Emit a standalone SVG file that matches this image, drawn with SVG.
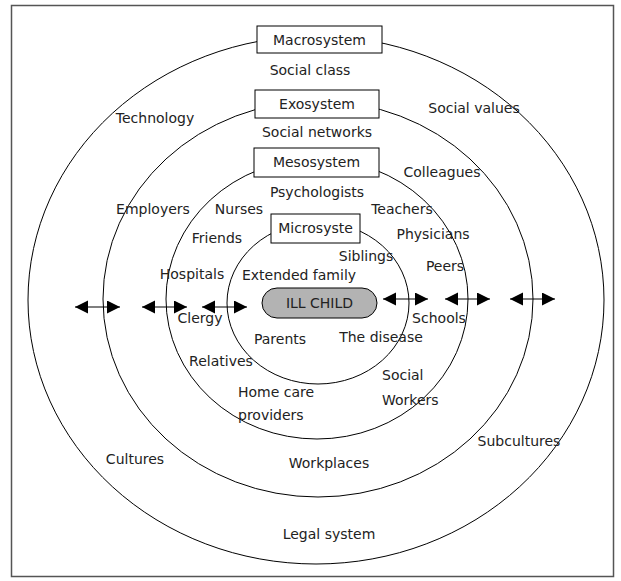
<svg xmlns="http://www.w3.org/2000/svg" width="621" height="581" viewBox="0 0 621 581">
<style>
  .ring{fill:none;stroke:#000;stroke-width:1}
  .box{fill:#fff;stroke:#000;stroke-width:1}
  .child{fill:#b3b3b3;stroke:#000;stroke-width:1}
  text{font-family:"DejaVu Sans","Liberation Sans",sans-serif;font-size:14px;fill:#222}
  .c{text-anchor:middle}
  .arr{stroke:#000;stroke-width:1.2;marker-start:url(#head);marker-end:url(#head)}
</style>
<defs>
  <marker id="head" markerUnits="userSpaceOnUse" markerWidth="14" markerHeight="14" refX="13" refY="6.5" orient="auto-start-reverse">
    <path d="M0,0 L13,6.5 L0,13 Z" fill="#000"/>
  </marker>
</defs>
<rect x="11.5" y="5.5" width="602" height="571" fill="#fff" stroke="#555" stroke-width="1.5"/>
<g id="rings">
  <ellipse id="macro-ring" class="ring" cx="316" cy="300" rx="288" ry="264"/>
  <ellipse id="exo-ring" class="ring" cx="318" cy="299" rx="215" ry="198"/>
  <ellipse id="meso-ring" class="ring" cx="317" cy="299" rx="151" ry="140"/>
  <ellipse id="micro-ring" class="ring" cx="318" cy="303" rx="91" ry="81"/>
</g>
<g id="connectors">
  <line class="arr" x1="75" y1="307" x2="120" y2="307"/>
  <line class="arr" x1="142" y1="307" x2="187" y2="307"/>
  <line class="arr" x1="202" y1="307" x2="247" y2="307"/>
  <line class="arr" x1="383" y1="299" x2="428" y2="299"/>
  <line class="arr" x1="445" y1="299" x2="490" y2="299"/>
  <line class="arr" x1="510" y1="299" x2="555" y2="299"/>
</g>
<g id="macrosystem">
  <rect class="box" x="257" y="26" width="125" height="27"/>
  <text class="c" x="319.5" y="44.5">Macrosystem</text>
</g>
<g id="exosystem">
  <rect class="box" x="255" y="90" width="124" height="28"/>
  <text class="c" x="317" y="108.5">Exosystem</text>
</g>
<g id="mesosystem">
  <rect class="box" x="254" y="148" width="125" height="29"/>
  <text class="c" x="316.5" y="167">Mesosystem</text>
</g>
<g id="microsystem">
  <rect class="box" x="271" y="214" width="89" height="29"/>
  <text class="c" x="315.5" y="233">Microsyste</text>
</g>
<g id="ill-child">
  <rect class="child" x="262" y="288" width="115" height="30" rx="15" ry="15"/>
  <text class="c" x="319.5" y="308">ILL CHILD</text>
</g>
<g id="labels">
  <text class="c" x="310" y="75">Social class</text>
  <text class="c" x="155" y="123">Technology</text>
  <text class="c" x="474" y="113">Social values</text>
  <text class="c" x="317" y="137">Social networks</text>
  <text class="c" x="442" y="177">Colleagues</text>
  <text class="c" x="317" y="197">Psychologists</text>
  <text class="c" x="153" y="214">Employers</text>
  <text class="c" x="239" y="214">Nurses</text>
  <text class="c" x="402" y="214">Teachers</text>
  <text class="c" x="217" y="243">Friends</text>
  <text class="c" x="433" y="239">Physicians</text>
  <text class="c" x="366" y="261">Siblings</text>
  <text class="c" x="445" y="271">Peers</text>
  <text class="c" x="192" y="279">Hospitals</text>
  <text class="c" x="299" y="280">Extended family</text>
  <text class="c" x="200" y="323">Clergy</text>
  <text class="c" x="439" y="323">Schools</text>
  <text class="c" x="280" y="344">Parents</text>
  <text class="c" x="381" y="342">The disease</text>
  <text class="c" x="221" y="366">Relatives</text>
  <text x="382" y="380">Social</text>
  <text x="382" y="405">Workers</text>
  <text x="238" y="397">Home care</text>
  <text x="238" y="420">providers</text>
  <text class="c" x="519" y="446">Subcultures</text>
  <text class="c" x="135" y="464">Cultures</text>
  <text class="c" x="329" y="468">Workplaces</text>
  <text class="c" x="329" y="539">Legal system</text>
</g>
</svg>
